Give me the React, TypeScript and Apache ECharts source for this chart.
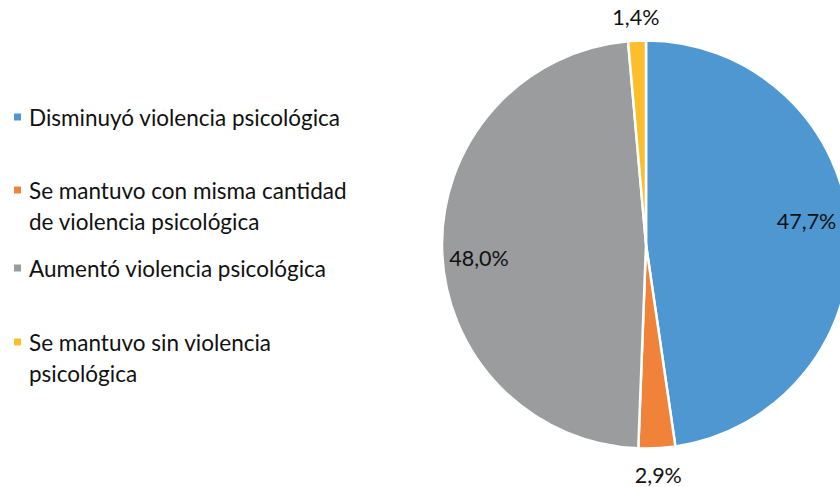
import React, { useEffect, useRef } from "react";
import * as echarts from "echarts";

const categories = [
  "Disminuyó violencia psicológica",
  "Se mantuvo con misma cantidad de violencia psicológica",
  "Aumentó violencia psicológica",
  "Se mantuvo sin violencia psicológica",
];
const legendLines = [
  ["Disminuyó violencia psicológica"],
  ["Se mantuvo con misma cantidad", "de violencia psicológica"],
  ["Aumentó violencia psicológica"],
  ["Se mantuvo sin violencia", "psicológica"],
];
const values = [47.7, 2.9, 48.0, 1.4];
const valueLabels = ["47,7%", "2,9%", "48,0%", "1,4%"];
const colors = ["#4E97D1", "#F0823A", "#9A9C9D", "#FDBE2C"];

const FONT = "Lato, 'Open Sans', sans-serif";
const TEXT = "#111111";

export default function App() {
  const ref = useRef<HTMLDivElement>(null);
  useEffect(() => {
    if (!ref.current) return;
    const chart = echarts.init(ref.current, undefined, { renderer: "svg" });
    const center = [646, 244.5];
    const legendTops = [101.5, 143.5, 252.5, 295.5];
    const legendText = {
      fontFamily: FONT,
      fontSize: 22.5,
      lineHeight: 31,
      color: TEXT,
    };
    const legends = categories.map((name, i) => {
      const lines = legendLines[i];
      const multi = lines.length > 1;
      return {
        data: [name],
        left: 12,
        top: legendTops[i],
        padding: 0,
        orient: "vertical",
        icon: "rect",
        itemWidth: 9,
        itemHeight: 9,
        selectedMode: false,
        formatter: () =>
          multi
            ? ["{e| }", ...lines.map((l) => `{t|${l}}`)].join("\n")
            : `{t|${lines[0]}}`,
        textStyle: {
          ...legendText,
          rich: {
            t: { ...legendText, padding: [0, 0, 0, 2] },
            e: { ...legendText },
          },
        },
      };
    });
    const baseData = categories.map((name, i) => ({
      name,
      value: values[i],
    }));
    const labelCommon = {
      fontFamily: FONT,
      fontSize: 21.5,
      color: TEXT,
    };
    // vertical nudge (px) of each value label: negative = up, positive = down
    const nudges = [-12, 0, 9, 3];
    const makeLabel = (i: number, show: boolean) => {
      const n = nudges[i];
      const base = { ...labelCommon, lineHeight: 24 };
      let formatter = `{v|${valueLabels[i]}}`;
      if (n < 0) formatter = `{v|${valueLabels[i]}}\n{d| }`;
      if (n > 0) formatter = `{d| }\n{v|${valueLabels[i]}}`;
      return {
        show,
        position: "inside",
        formatter,
        ...labelCommon,
        rich: {
          v: base,
          d: { ...labelCommon, fontSize: 1, lineHeight: Math.abs(n) * 2 },
        },
      };
    };
    const labelRing = (radius: number[], shown: number[]) => ({
      type: "pie",
      center,
      radius,
      startAngle: 90,
      clockwise: true,
      silent: true,
      labelLine: { show: false },
      itemStyle: { color: "rgba(0,0,0,0)" },
      data: baseData.map((d, i) => ({
        ...d,
        label: makeLabel(i, shown.includes(i)),
      })),
    });
    chart.setOption({
      animation: false,
      legend: legends,
      series: [
        {
          type: "pie",
          center,
          radius: [0, 204],
          startAngle: 90,
          clockwise: true,
          silent: true,
          label: { show: false },
          labelLine: { show: false },
          itemStyle: { borderColor: "#ffffff", borderWidth: 2.5 },
          data: baseData.map((d, i) => ({ ...d, itemStyle: { color: colors[i] } })),
        },
        labelRing([116, 200], [0]),
        labelRing([124, 204], [2]),
        labelRing([206, 250], [1, 3]),
      ],
    });
    return () => chart.dispose();
  }, []);
  return (
    <div
      ref={ref}
      style={{ position: "absolute", left: 0, top: 0, width: 840, height: 487 }}
    />
  );
}
